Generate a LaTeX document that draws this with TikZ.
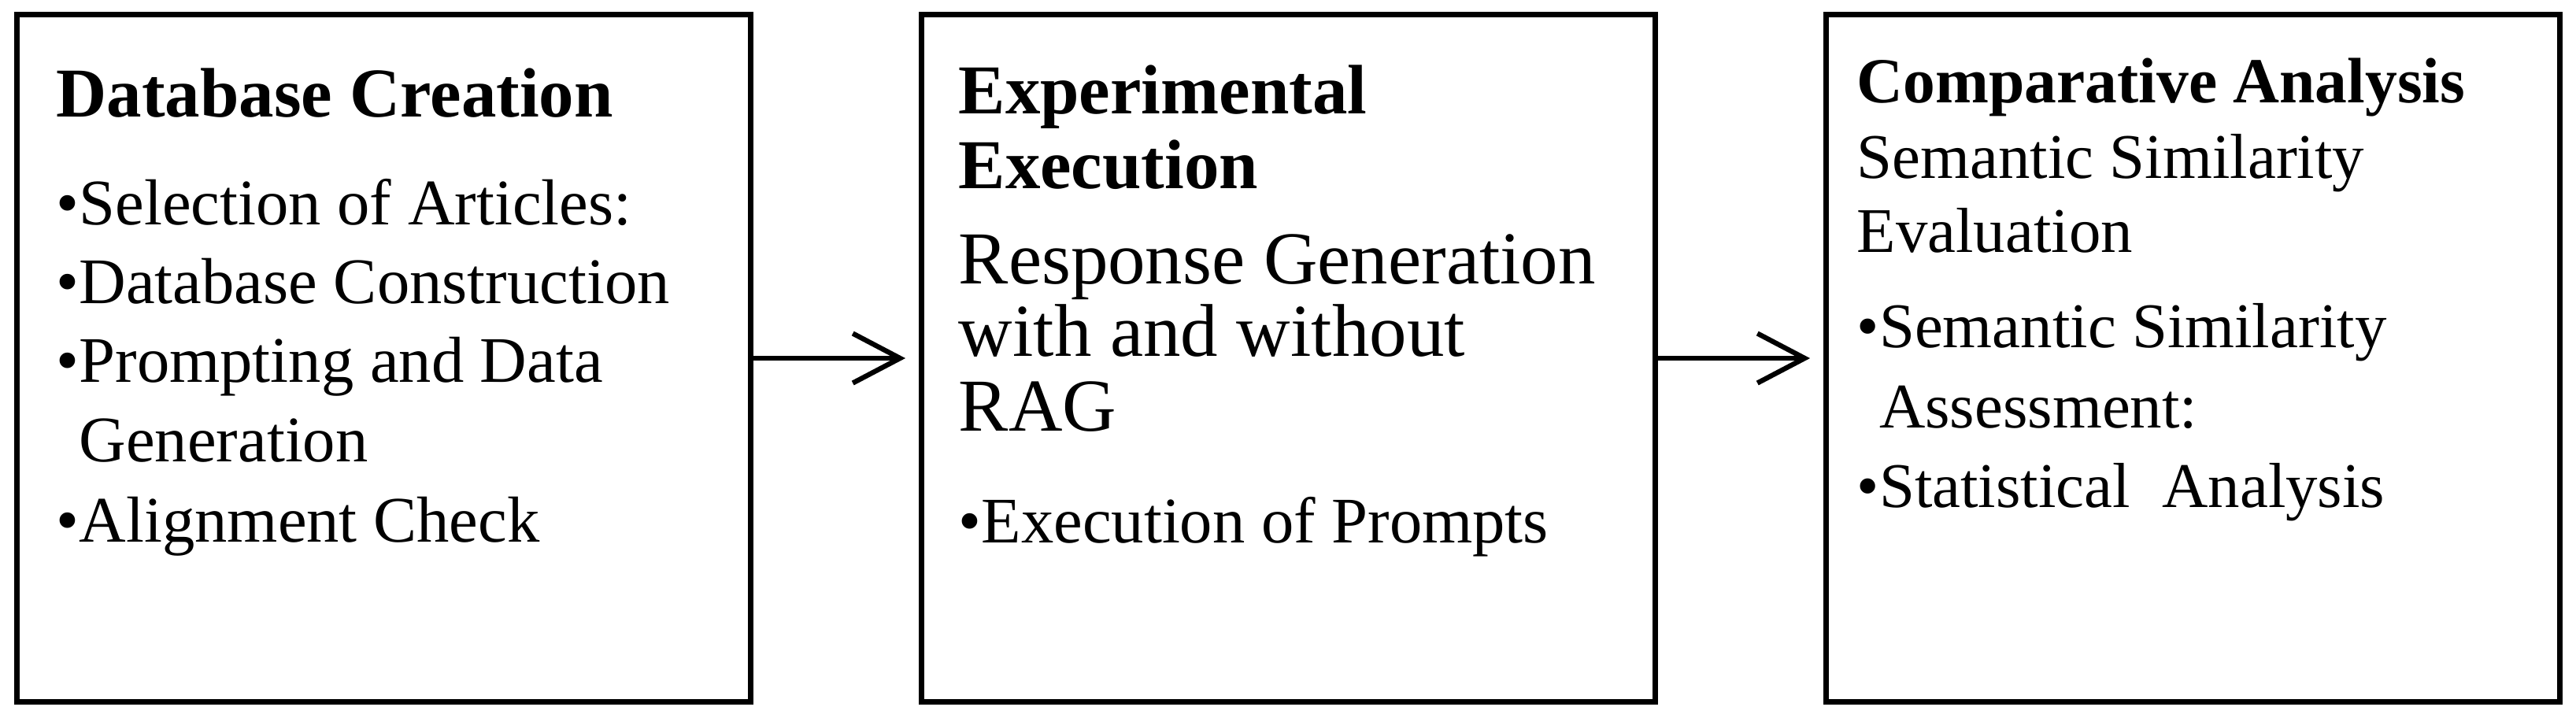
\documentclass[tikz,border=0pt]{standalone}
\usepackage{fontspec}
\setmainfont{Liberation Serif}
\usetikzlibrary{positioning,arrows.meta}

\newcommand{\bul}{•}
\newcommand{\hng}{\hphantom{•}}

\begin{document}
\begin{tikzpicture}[
	stage/.style={draw, line width=2pt, minimum width=9.32cm, minimum height=8.73cm, inner sep=0pt},
	txt/.style={align=left, inner sep=0pt, font=\fontsize{23.5}{28.5}\selectfont},
	flow/.style={-{Straight Barb[length=6mm,width=6.3mm]}, line width=1.8pt, shorten >=1.7mm},
	]
	\useasboundingbox (0,0) rectangle (32.72,-9.11);
	%Boxes
	\node[stage, anchor=north west] (b1) at (0.18,-0.15) {};
	\node[stage]      (b2)       [right=2.10cm of b1] {};
	\node[stage]      (b3)       [right=2.10cm of b2] {};

	%Texts
	\node[txt] (t1) [below right=0.71cm and 0.53cm of b1.north west]
		{{\fontsize{25.3}{28.5}\selectfont\bfseries Database Creation}\\[0.37cm]
		 \bul Selection of Articles:\\
		 \bul Database Construction\\
		 \bul Prompting and Data\\
		 \hng Generation\\[0.02cm]
		 \bul Alignment Check};
	\node[txt] (t2) [below right=0.67cm and 0.50cm of b2.north west]
		{{\fontsize{25.3}{28.5}\selectfont\bfseries Experimental}\\[-0.05cm]
		 {\fontsize{25.3}{28.5}\selectfont\bfseries Execution}\\[0.21cm]
		 {\fontsize{27}{28.5}\selectfont Response Generation}\\[-0.08cm]
		 {\fontsize{27}{28.5}\selectfont with and without}\\[-0.06cm]
		 {\fontsize{27}{28.5}\selectfont RAG}\\[0.42cm]
		 \bul Execution of Prompts};
	\node[txt] (t3) [below right=0.585cm and 0.42cm of b3.north west]
		{{\fontsize{23.2}{28.5}\selectfont\bfseries Comparative Analysis}\\[-0.045cm]
		 {\fontsize{23}{28.5}\selectfont Semantic Similarity}\\[-0.06cm]
		 {\fontsize{23}{28.5}\selectfont Evaluation}\\[0.21cm]
		 {\fontsize{23}{28.5}\selectfont\bul Semantic Similarity}\\[0.02cm]
		 {\fontsize{23}{28.5}\selectfont\hng Assessment:}\\
		 {\fontsize{23}{28.5}\selectfont\bul Statistical\ \ Analysis}};

	%Lines
	\draw[flow] (b1) -- (b2);
	\draw[flow] (b2) -- (b3);
\end{tikzpicture}
\end{document}
